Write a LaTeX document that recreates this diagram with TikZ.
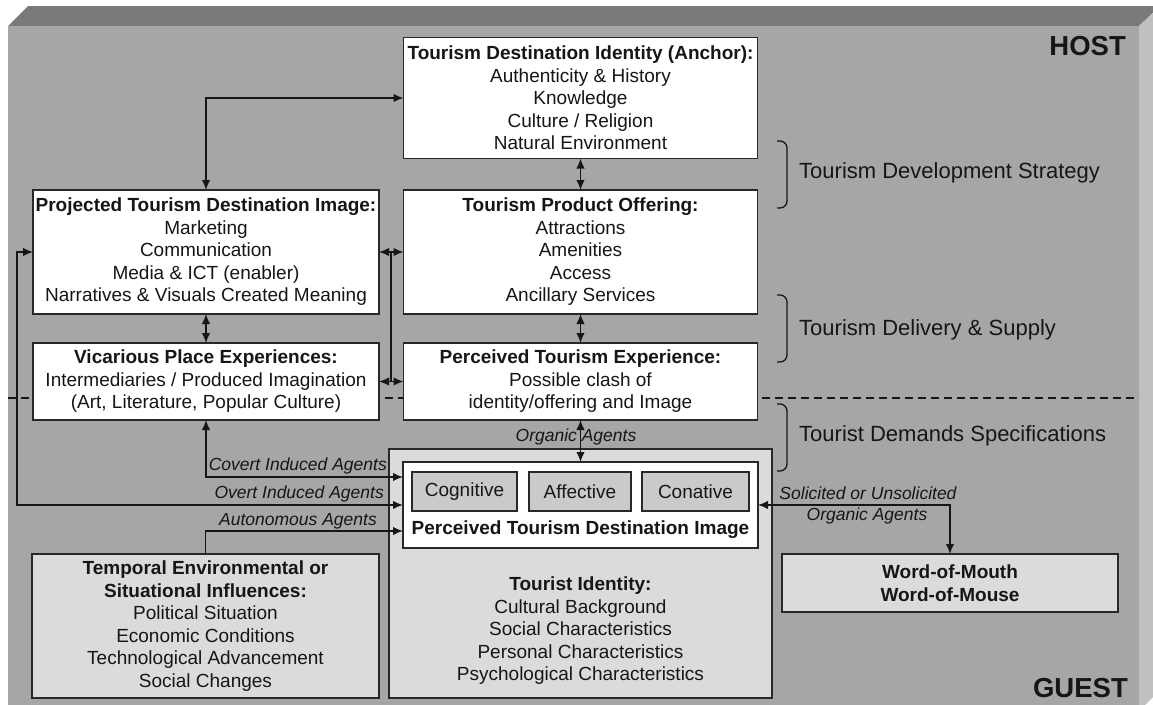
\documentclass[tikz,border=0pt]{standalone}
\usepackage{fontspec}
\setmainfont{Liberation Sans}
\usetikzlibrary{arrows.meta,calc}
\definecolor{frontf}{RGB}{166,166,166}
\definecolor{topf}{RGB}{122,122,122}
\definecolor{sidef}{RGB}{192,192,192}
\definecolor{lgray}{RGB}{219,219,219}
\definecolor{mgray}{RGB}{202,202,202}
\definecolor{ink}{RGB}{22,22,22}
\definecolor{edgec}{RGB}{40,40,40}
\begin{document}
\begin{tikzpicture}[x=1pt,y=-1pt,
  >={Latex[length=10pt,width=8.5pt]},
  box/.style={draw=edgec,line width=1.6pt,fill=white,inner sep=0pt,outer sep=0pt,align=center,text=ink,font=\fontsize{19}{22.5}\selectfont},
  graybox/.style={box,fill=lgray},
  facet/.style={box,fill=mgray},
  plain/.style={inner sep=0pt,align=center,text=ink,font=\fontsize{19}{22.5}\selectfont},
  agent/.style={inner sep=0pt,text=ink,align=center,font=\fontsize{17.5}{22}\selectfont\itshape},
  side/.style={inner sep=0pt,anchor=west,text=ink,font=\fontsize{22}{26}\selectfont},
  big/.style={inner sep=0pt,anchor=east,text=ink,font=\fontsize{27.5}{30}\selectfont\bfseries},
  conn/.style={draw=ink,line width=1.6pt},
  brace/.style={draw=ink,line width=1.3pt,rounded corners=7pt},
  divider/.style={draw=ink,line width=2pt,dash pattern=on 8pt off 5pt}]
\useasboundingbox (0,0) rectangle (1153,704);
\clip (0,0) rectangle (1153,704);
\fill[white] (0,0) rectangle (1153,704);
% 3D slab
\fill[topf] (8,26) -- (28,6) -- (1160,6) -- (1139,26) -- cycle;
\fill[sidef] (1139,26) -- (1160,6) -- (1160,690) -- (1139,711) -- cycle;
\fill[frontf] (8,26) rectangle (1139,711);
% host / guest divider
\draw[divider] (8,398) -- (1139,398);
% labels HOST GUEST
\node[big] (host) at (1126,46) {HOST};
\node[big] (guest) at (1128,688) {GUEST};
% boxes
\node[box,minimum width=354pt,minimum height=121pt] (ident) at (580.5,98)
  {\textbf{Tourism Destination Identity (Anchor):}\\Authenticity \& History\\Knowledge\\Culture / Religion\\Natural Environment};
\node[box,minimum width=346pt,minimum height=124pt] (proj) at (206,252)
  {\textbf{Projected Tourism Destination Image:}\\Marketing\\Communication\\Media \& ICT (enabler)\\Narratives \& Visuals Created Meaning};
\node[box,minimum width=354pt,minimum height=124pt] (prod) at (580.5,252)
  {\textbf{Tourism Product Offering:}\\Attractions\\Amenities\\Access\\Ancillary Services};
\node[box,minimum width=346pt,minimum height=77pt] (vic) at (206,381.5)
  {\textbf{Vicarious Place Experiences:}\\Intermediaries / Produced Imagination\\(Art, Literature, Popular Culture)};
\node[box,minimum width=354pt,minimum height=77pt] (exp) at (580.5,381.5)
  {\textbf{Perceived Tourism Experience:}\\Possible clash of\\identity/offering and Image};
\node[graybox,minimum width=383pt,minimum height=249pt] (guestbox) at (580.5,573.5) {};
\node[plain] (tid) at (580.5,631)
  {\textbf{Tourist Identity:}\\Cultural Background\\Social Characteristics\\Personal Characteristics\\Psychological Characteristics};
\node[box,minimum width=355pt,minimum height=86pt] (ptdi) at (580.5,505) {};
\node[facet,minimum width=105pt,minimum height=39pt] (cog) at (464.5,491.5) {Cognitive};
\node[facet,minimum width=102pt,minimum height=39pt] (aff) at (580,491.5) {Affective};
\node[facet,minimum width=107pt,minimum height=39pt] (con) at (695.5,491.5) {Conative};
\node[plain] (ptdilabel) at (580.5,530) {\textbf{Perceived Tourism Destination Image}};
\node[graybox,minimum width=347pt,minimum height=144pt] (temp) at (205.5,626)
  {\textbf{Temporal Environmental or}\\\textbf{Situational Influences:}\\Political Situation\\Economic Conditions\\Technological Advancement\\Social Changes};
\node[graybox,minimum width=336pt,minimum height=58pt] (wom) at (950,583)
  {\textbf{Word-of-Mouth}\\\textbf{Word-of-Mouse}};
% side braces and labels
\draw[brace] (777,141) -- (787,141) -- (787,208) -- (777,208);
\node[side] (tds) at (799,173) {Tourism Development Strategy};
\draw[brace] (777,295) -- (787,295) -- (787,362) -- (777,362);
\node[side] (tdsup) at (799,330) {Tourism Delivery \& Supply};
\draw[brace] (777,404) -- (787,404) -- (787,471) -- (777,471);
\node[side] (tdem) at (799,436) {Tourist Demands Specifications};
% agent labels
\node[agent,anchor=east] (lcov) at (387,466) {Covert Induced Agents};
\node[agent,anchor=east] (lov) at (384,494) {Overt Induced Agents};
\node[agent,anchor=east] (laut) at (377,521) {Autonomous Agents};
\node[agent] (lorg) at (576,437) {Organic Agents};
\node[agent] (lsol) at (868,493) {Solicited or Unsolicited};
\node[agent] (lsol2) at (867,516) {Organic Agents};
% connectors
\draw[conn,<->] (ident.west) -| (proj.north);
\draw[conn,<->] (ident.south) -- (prod.north);
\draw[conn,<->] (prod.south) -- (exp.north);
\draw[conn,<->] (proj.south) -- (vic.north);
\draw[conn,<->] (proj.east) -- (prod.west);
\draw[conn,<->] (vic.east) -- (exp.west);
\draw[conn] ($(proj.east)!0.5!(prod.west)$) -- ($(vic.east)!0.5!(exp.west)$);
\draw[conn,<->] (exp.south) -- (ptdi.north);
\draw[conn,<->] (vic.south) |- ([yshift=28pt]ptdi.west);
\draw[conn,<->] (proj.west) -- ++(-16,0) |- (ptdi.west);
\draw[conn,->] (temp.north) |- ([yshift=-26pt]ptdi.west);
\draw[conn,<->] (ptdi.east) -| (wom.north);
\end{tikzpicture}
\end{document}
